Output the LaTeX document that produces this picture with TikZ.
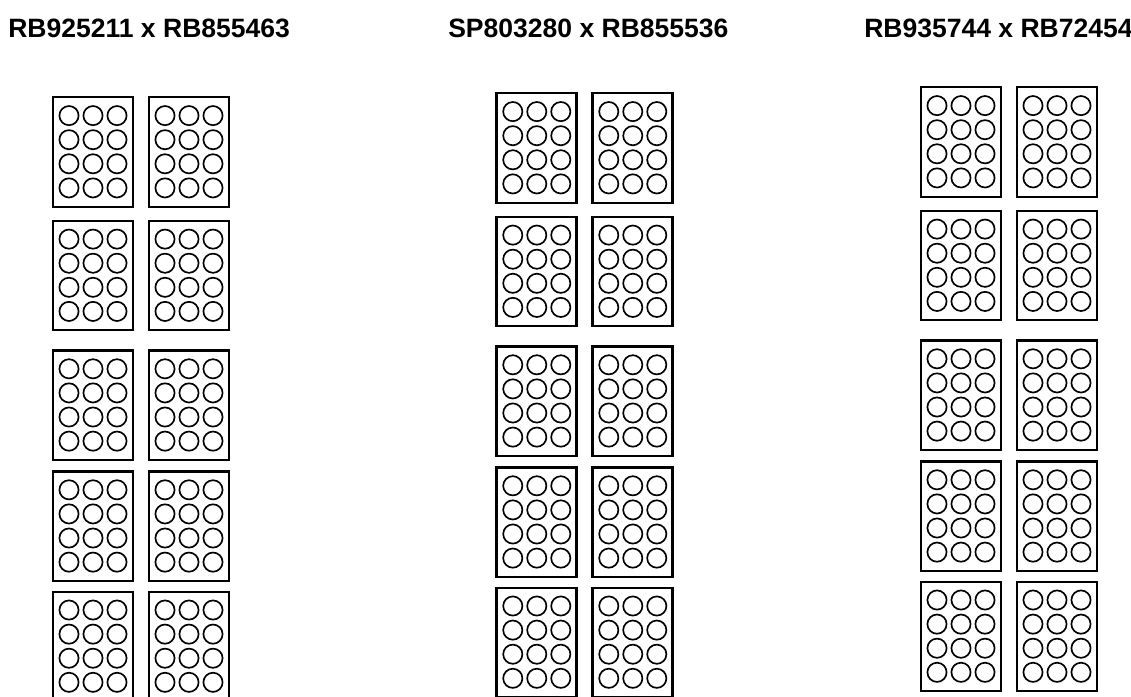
\documentclass[tikz,border=0pt]{standalone}
\usepackage{fontspec}
\setmainfont{Liberation Sans}
\usepackage{tikz}
\usetikzlibrary{calc, positioning}

\begin{document}
\begin{tikzpicture}[x=0.75pt, y=-0.75pt,
    plate/.style={line width=1.6pt},
    well/.style={line width=1.25pt},
    cross/.style={font=\bfseries\fontsize{19.9}{24}\selectfont, inner sep=0pt, anchor=base west}]

    % =================================================================
    % 1. KHUNG HINH
    % =================================================================
    \useasboundingbox (0,0) rectangle (1131,696);
    \clip (0,0) rectangle (1131,696);

    % =================================================================
    % 2. TEN CAC PHEP LAI
    % =================================================================
    \node[cross] (cross1) at (8,37) {RB925211 x RB855463};
    \node[cross] (cross2) at (448,37) {SP803280 x RB855536};
    \node[cross] (cross3) at (864,37) {RB935744 x RB72454};

    % =================================================================
    % 3. CAC DIA 12 GIENG (3 cot, moi cot 5 hang x 2 dia)
    % =================================================================
    \foreach \cx/\cy in {52.7/97.3, 496.5/93.3, 920.7/87.3}
      \foreach \dy in {0, 123.5, 253.2, 374.2, 494.4}
        \foreach \dx in {0, 96}
        {
          % khung dia
          \draw[plate] (\cx+\dx,\cy+\dy) rectangle ++(80,109.5);
          % cac gieng
          \foreach \i in {0,1,2}
            \foreach \j in {0,...,3}
              \draw[well] (\cx+\dx+16.3+24*\i, \cy+\dy+18.3+24.1*\j) circle[radius=9.6];
        }

\end{tikzpicture}
\end{document}
